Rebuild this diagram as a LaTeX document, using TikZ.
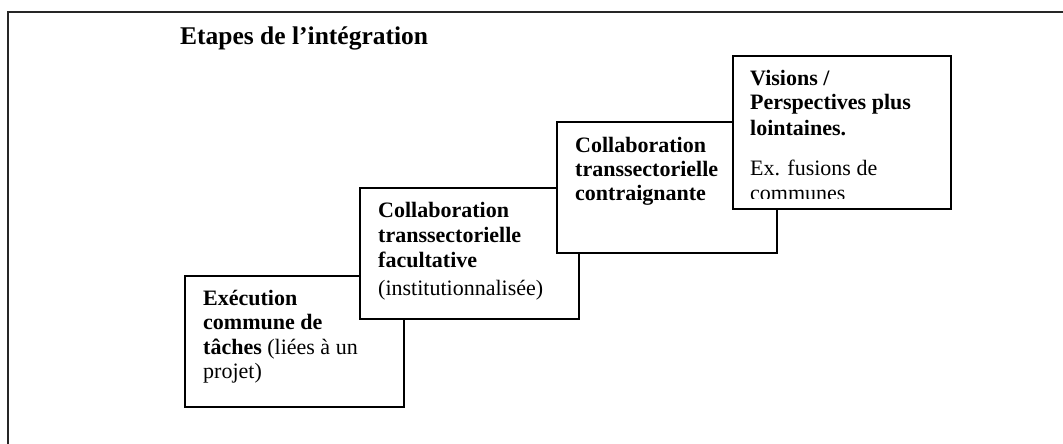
\documentclass[tikz,border=0pt]{standalone}
\usepackage{fontspec}
\setmainfont{Liberation Serif}
\usetikzlibrary{calc}
\begin{document}
\tikzset{
  stage/.style={draw=black, line width=1.9pt, fill=white, rectangle, anchor=north west, inner sep=0pt},
  ln/.style={anchor=base west, inner sep=0pt, font=\fontsize{22}{24}\selectfont},
  lnb/.style={ln, font=\fontsize{22}{24}\selectfont\bfseries},
  frameline/.style={line width=2.3pt, black!85}
}
\begin{tikzpicture}[x=1pt,y=-1pt]
\useasboundingbox (0,0) rectangle (1063,444);
\fill[white] (0,0) rectangle (1063,444);
\coordinate (fr1) at (1063,12);
\coordinate (fr2) at (8,12);
\coordinate (fr3) at (8,444);
\draw[frameline] (fr1) -- (fr2) -- (fr3);

\node[anchor=base west, inner sep=0pt, font=\fontsize{25.5}{30}\selectfont\bfseries] (title) at (180,45) {Etapes de l’intégration};

% Box 1
\node[stage, minimum width=219pt, minimum height=131pt] (b1) at (184,275) {};
\node[lnb] (t1a) at ($(b1.north west)+(19,30)$) {Exécution};
\node[lnb] (t1b) at ($(b1.north west)+(19,54.5)$) {commune de};
\node[ln]  (t1c) at ($(b1.north west)+(19,79)$) {\textbf{tâches} (liées à un};
\node[ln]  (t1d) at ($(b1.north west)+(19,103.5)$) {projet)};

% Box 2
\node[stage, minimum width=219pt, minimum height=131pt] (b2) at (359,187) {};
\node[lnb] (t2a) at ($(b2.north west)+(19,30)$) {Collaboration};
\node[lnb] (t2b) at ($(b2.north west)+(19,55)$) {transsectorielle};
\node[lnb] (t2c) at ($(b2.north west)+(19,80)$) {facultative};
\node[ln]  (t2d) at ($(b2.north west)+(19,108)$) {(institutionnalisée)};

% Box 3
\node[stage, minimum width=220pt, minimum height=131pt] (b3) at (556,121) {};
\node[lnb] (t3a) at ($(b3.north west)+(19,31)$) {Collaboration};
\node[lnb] (t3b) at ($(b3.north west)+(19,55)$) {transsectorielle};
\node[lnb] (t3c) at ($(b3.north west)+(19,79)$) {contraignante};

% Box 4
\node[stage, minimum width=218pt, minimum height=153pt] (b4) at (732,55) {};
\node[lnb] (t4a) at ($(b4.north west)+(18,30)$) {Visions /};
\node[lnb] (t4b) at ($(b4.north west)+(18,55)$) {Perspectives plus};
\node[lnb] (t4c) at ($(b4.north west)+(18,80)$) {lointaines.};
\node[ln]  (t4d) at ($(b4.north west)+(18,120)$) {Ex. fusions de};
\begin{scope}
  \clip (733,56) rectangle (949,198.5);
  \node[ln] (t4e) at ($(b4.north west)+(18,145)$) {communes};
\end{scope}
\end{tikzpicture}
\end{document}
